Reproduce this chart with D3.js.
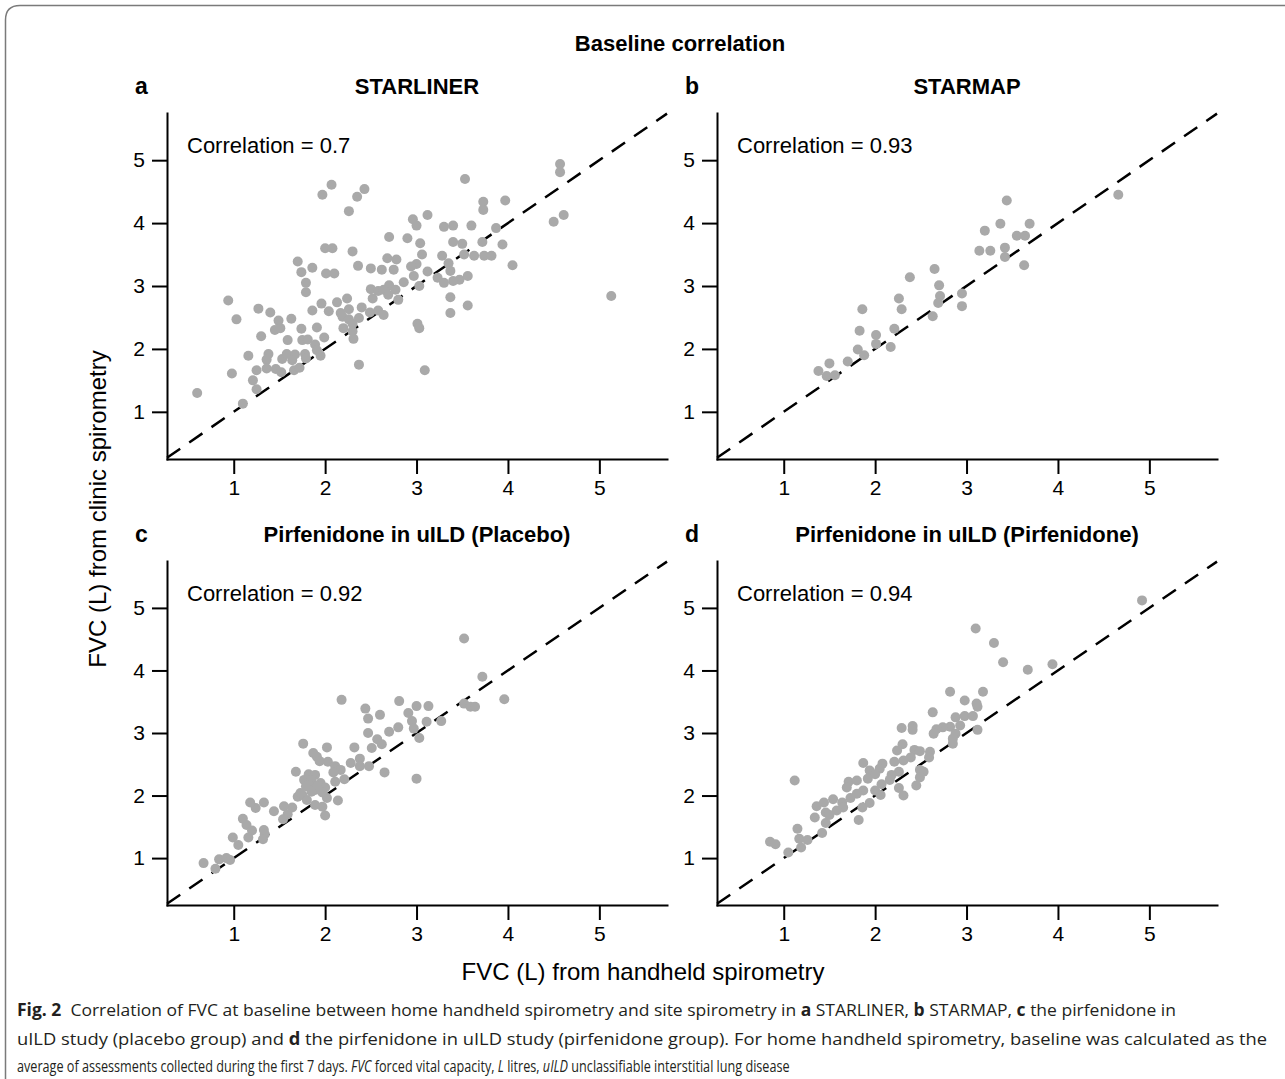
<!DOCTYPE html>
<html>
<head>
<meta charset="utf-8">
<script src="https://cdn.jsdelivr.net/npm/d3@7"></script>
<style>
  body { margin: 0; background: #fff; }
  svg text { font-family: "Liberation Sans", Arial, Helvetica, sans-serif; }
</style>
</head>
<body>
<div id="main"></div>
<script>
// values: [handheld, clinic] in litres
var starlinerPoints = [[4.57,4.94],[4.57,4.81],[3.53,4.70],[2.07,4.61],[1.97,4.45],[2.43,4.54],[2.35,4.42],[2.26,4.19],[3.12,4.13],[2.96,4.06],[3.00,3.96],[4.61,4.13],[4.50,4.02],[3.73,4.34],[3.73,4.21],[3.97,4.36],[3.30,3.94],[3.40,3.96],[3.60,3.96],[3.87,3.92],[2.70,3.78],[2.90,3.76],[3.04,3.68],[3.40,3.70],[3.50,3.67],[3.72,3.70],[3.94,3.66],[2.00,3.60],[2.08,3.60],[2.30,3.55],[3.06,3.50],[3.28,3.48],[3.52,3.50],[3.63,3.48],[3.74,3.48],[3.82,3.48],[2.68,3.44],[2.78,3.42],[1.70,3.39],[1.86,3.29],[2.36,3.32],[2.50,3.28],[2.62,3.26],[2.75,3.26],[3.00,3.35],[2.94,3.31],[3.35,3.36],[4.05,3.33],[1.74,3.22],[2.01,3.20],[2.10,3.20],[3.12,3.23],[2.97,3.16],[3.23,3.13],[3.37,3.24],[3.47,3.10],[3.56,3.16],[3.40,3.08],[3.30,3.05],[1.79,3.05],[2.86,3.06],[3.03,3.00],[2.70,3.01],[2.50,2.95],[2.58,2.92],[2.64,2.94],[2.77,2.94],[2.69,2.86],[2.80,2.78],[1.79,2.90],[2.52,2.80],[3.37,2.82],[0.94,2.77],[2.24,2.80],[2.13,2.74],[1.96,2.72],[3.56,2.69],[3.37,2.57],[1.27,2.64],[1.40,2.58],[1.86,2.61],[2.04,2.60],[2.17,2.57],[2.26,2.63],[2.40,2.66],[2.49,2.58],[2.58,2.61],[2.64,2.54],[2.37,2.49],[1.03,2.47],[1.49,2.45],[1.63,2.48],[1.91,2.34],[2.19,2.51],[2.26,2.47],[2.20,2.33],[2.30,2.40],[2.30,2.28],[1.45,2.30],[1.51,2.33],[1.74,2.32],[1.30,2.20],[1.59,2.14],[1.75,2.14],[1.81,2.15],[1.99,2.18],[1.89,2.07],[1.91,1.98],[1.95,1.89],[2.31,2.16],[3.01,2.40],[3.03,2.33],[1.16,1.89],[1.38,1.92],[1.36,1.83],[1.53,1.84],[1.58,1.92],[1.67,1.91],[1.78,1.92],[1.79,1.85],[1.64,1.82],[1.25,1.66],[1.36,1.69],[1.46,1.68],[1.52,1.63],[1.66,1.66],[1.72,1.70],[0.98,1.61],[2.37,1.75],[3.09,1.66],[1.21,1.50],[1.25,1.36],[0.60,1.30],[1.10,1.13],[5.13,2.84]];

var starmapPoints = [[4.66,4.45],[3.44,4.36],[3.37,3.99],[3.20,3.88],[3.69,3.99],[3.55,3.80],[3.64,3.80],[3.42,3.61],[3.42,3.46],[3.14,3.56],[3.26,3.56],[3.63,3.33],[2.65,3.27],[2.38,3.14],[2.70,3.01],[2.71,2.84],[2.69,2.73],[2.95,2.88],[2.95,2.68],[2.63,2.52],[2.26,2.80],[2.29,2.63],[1.86,2.63],[1.83,2.29],[2.21,2.32],[2.01,2.22],[2.01,2.08],[2.17,2.03],[1.81,1.99],[1.88,1.90],[1.70,1.80],[1.50,1.77],[1.38,1.65],[1.47,1.57],[1.56,1.58]];

var placeboPoints = [[3.52,4.51],[3.72,3.90],[2.18,3.53],[3.96,3.54],[2.81,3.51],[3.00,3.43],[3.13,3.43],[3.52,3.47],[3.59,3.42],[3.64,3.42],[2.44,3.39],[2.60,3.29],[2.47,3.23],[2.91,3.32],[2.95,3.19],[3.11,3.18],[3.27,3.19],[2.80,3.09],[2.70,3.02],[2.97,3.07],[2.47,3.00],[3.03,2.92],[2.57,2.90],[2.62,2.82],[2.51,2.76],[2.32,2.77],[1.76,2.83],[2.02,2.77],[1.87,2.68],[1.91,2.62],[1.94,2.55],[2.03,2.54],[2.11,2.47],[2.28,2.52],[2.38,2.59],[2.48,2.47],[2.38,2.47],[2.17,2.41],[2.09,2.37],[2.21,2.26],[2.11,2.22],[2.65,2.37],[3.00,2.27],[1.68,2.38],[1.82,2.34],[1.89,2.33],[1.77,2.25],[1.85,2.25],[1.95,2.20],[2.00,2.13],[1.82,2.17],[1.89,2.09],[1.70,1.98],[1.75,2.01],[1.80,1.93],[1.89,1.85],[1.97,1.82],[2.02,1.96],[2.14,1.92],[2.00,1.68],[1.64,1.81],[1.55,1.83],[1.59,1.70],[1.54,1.62],[1.44,1.75],[1.33,1.89],[1.24,1.80],[1.18,1.89],[1.10,1.63],[1.14,1.53],[1.20,1.44],[1.16,1.33],[1.33,1.45],[1.34,1.38],[1.32,1.30],[0.99,1.33],[1.05,1.21],[0.84,0.98],[0.92,1.00],[0.96,0.97],[0.67,0.92],[0.80,0.83],[1.79,2.15],[1.91,2.15],[1.85,2.06],[1.97,2.05],[1.73,2.04]];

var pirfenidonePoints = [[4.92,5.12],[3.10,4.67],[3.30,4.44],[3.40,4.13],[3.67,4.01],[3.94,4.10],[2.82,3.66],[3.18,3.66],[2.98,3.52],[3.11,3.47],[3.12,3.42],[2.63,3.33],[2.88,3.25],[2.98,3.27],[3.07,3.27],[3.12,3.05],[2.93,3.12],[2.82,3.10],[2.74,3.09],[2.67,3.06],[2.64,2.99],[2.88,2.99],[2.85,2.91],[2.85,2.83],[2.29,3.08],[2.41,3.11],[2.41,3.05],[2.30,2.82],[2.24,2.72],[2.43,2.73],[2.49,2.71],[2.60,2.70],[2.59,2.61],[2.39,2.61],[2.31,2.56],[2.21,2.54],[2.08,2.51],[1.87,2.52],[2.05,2.43],[1.94,2.40],[2.00,2.34],[1.92,2.27],[2.26,2.38],[2.18,2.33],[2.16,2.25],[2.49,2.41],[2.53,2.38],[2.49,2.29],[2.45,2.16],[2.26,2.12],[2.31,2.00],[2.07,2.18],[2.00,2.08],[2.06,2.01],[1.94,1.88],[1.86,1.81],[1.82,1.61],[1.87,2.08],[1.80,2.03],[1.71,2.22],[1.80,2.24],[1.69,2.13],[1.73,1.96],[1.64,1.89],[1.65,1.81],[1.58,1.76],[1.54,1.94],[1.44,1.89],[1.36,1.83],[1.46,1.73],[1.50,1.69],[1.34,1.65],[1.46,1.56],[1.42,1.40],[1.15,1.47],[1.12,2.24],[1.17,1.31],[1.26,1.29],[1.19,1.17],[1.05,1.09],[0.85,1.26],[0.91,1.22]];

var panelLetters = ["a", "b", "c", "d"];
var panelTitles = ["STARLINER", "STARMAP", "Pirfenidone in uILD (Placebo)", "Pirfenidone in uILD (Pirfenidone)"];
var correlations = ["0.7", "0.93", "0.92", "0.94"];
var tickValues = [1, 2, 3, 4, 5];

var figureTitle = "Baseline correlation";
var xAxisLabelText = "FVC (L) from handheld spirometry";
var yAxisLabelText = "FVC (L) from clinic spirometry";

var outerWidth = 1285, outerHeight = 1079;
var colLeft = [167, 717];
var rowTop = [113, 561];
var rowBottom = [459, 905];
var innerWidth = 500;
var xDomain = [0.27, 5.74];
var yDomain = [0.25, 5.75];
var pointColor = "#a9a9a9";

var svg = d3.select("#main")
    .append("svg")
    .attr("width", outerWidth)
    .attr("height", outerHeight);

// rounded frame round the figure
svg.append("path")
    .attr("d", "M5.5," + outerHeight + " L5.5,20 Q5.5,5.5 20,5.5 L" + outerWidth + ",5.5")
    .attr("fill", "none")
    .attr("stroke", "#7a7a7a")
    .attr("stroke-width", 1.5);

svg.append("text")
    .attr("x", 680)
    .attr("y", 51)
    .attr("text-anchor", "middle")
    .attr("font-size", 22)
    .attr("font-weight", "bold")
    .text(figureTitle);

function drawPanel(idx, points) {
    var col = idx % 2, row = Math.floor(idx / 2);
    var left = colLeft[col], top = rowTop[row];
    var innerHeight = rowBottom[row] - rowTop[row];

    var xScale = d3.scaleLinear().domain(xDomain).range([0, innerWidth]);
    var yScale = d3.scaleLinear().domain(yDomain).range([innerHeight, 0]);

    var g = svg.append("g")
        .attr("transform", "translate(" + left + "," + top + ")");

    // panel letter and title
    svg.append("text")
        .attr("x", left - 32)
        .attr("y", top - 19)
        .attr("font-size", 23)
        .attr("font-weight", "bold")
        .text(panelLetters[idx]);

    svg.append("text")
        .attr("x", left + innerWidth / 2)
        .attr("y", top - 19)
        .attr("text-anchor", "middle")
        .attr("font-size", 22)
        .attr("font-weight", "bold")
        .text(panelTitles[idx]);

    var xAxis = d3.axisBottom(xScale).tickValues(tickValues).tickFormat(d3.format("d"))
        .tickSize(15).tickSizeOuter(0).tickPadding(6);
    var yAxis = d3.axisLeft(yScale).tickValues(tickValues).tickFormat(d3.format("d"))
        .tickSize(15).tickSizeOuter(0).tickPadding(7);

    var xAxisG = g.append("g")
        .attr("transform", "translate(0," + innerHeight + ")")
        .call(xAxis);
    var yAxisG = g.append("g").call(yAxis);

    [xAxisG, yAxisG].forEach(function (a) {
        a.attr("font-family", null).attr("font-size", 21);
        a.selectAll(".domain, .tick line").attr("stroke", "#000").attr("stroke-width", 2);
        a.selectAll(".domain").attr("stroke-linecap", "square");
        a.selectAll("text").attr("fill", "#000");
    });

    // identity line
    var lo = Math.max(xDomain[0], yDomain[0]);
    var hi = Math.min(xDomain[1], yDomain[1]);
    g.append("line")
        .attr("x1", xScale(lo))
        .attr("y1", yScale(lo))
        .attr("x2", xScale(hi))
        .attr("y2", yScale(hi))
        .attr("stroke", "#000")
        .attr("stroke-width", 2.5)
        .attr("stroke-dasharray", "16,11");

    g.selectAll("circle")
        .data(points)
        .enter()
        .append("circle")
        .attr("cx", d => xScale(d[0]))
        .attr("cy", d => yScale(d[1]))
        .attr("r", 5)
        .attr("fill", pointColor);

    g.append("text")
        .attr("x", 20)
        .attr("y", 40)
        .attr("font-size", 22)
        .text("Correlation = " + correlations[idx]);
}

[starlinerPoints, starmapPoints, placeboPoints, pirfenidonePoints].forEach(function (pts, i) {
    drawPanel(i, pts);
});

svg.append("text")
    .attr("transform", "translate(106,509) rotate(-90)")
    .attr("text-anchor", "middle")
    .attr("font-size", 24)
    .text(yAxisLabelText);

svg.append("text")
    .attr("x", 643)
    .attr("y", 980)
    .attr("text-anchor", "middle")
    .attr("font-size", 24)
    .text(xAxisLabelText);

// caption, each line squeezed horizontally to its measured width
var captionLines = [
    {y: 1016, len: 1160, parts: [["Fig. 2", "bold"], ["  Correlation of FVC at baseline between home handheld spirometry and site spirometry in ", ""], ["a", "bold"], [" STARLINER, ", ""], ["b", "bold"], [" STARMAP, ", ""], ["c", "bold"], [" the pirfenidone in", ""]]},
    {y: 1045, len: 1251, parts: [["uILD study (placebo group) and ", ""], ["d", "bold"], [" the pirfenidone in uILD study (pirfenidone group). For home handheld spirometry, baseline was calculated as the", ""]]},
    {y: 1072, len: 773, parts: [["average of assessments collected during the first 7 days. ", ""], ["FVC", "italic"], [" forced vital capacity, ", ""], ["L", "italic"], [" litres, ", ""], ["uILD", "italic"], [" unclassifiable interstitial lung disease", ""]]}
];

captionLines.forEach(function (line) {
    var t = svg.append("text")
        .attr("font-size", 17)
        .attr("fill", "#231f20")
        .style("font-family", "'Open Sans', sans-serif")
        .attr("xml:space", "preserve");
    line.parts.forEach(function (p) {
        t.append("tspan")
            .attr("font-weight", p[1] == "bold" ? "bold" : null)
            .attr("font-style", p[1] == "italic" ? "italic" : null)
            .text(p[0]);
    });
    var k = line.len / t.node().getComputedTextLength();
    t.attr("transform", "translate(17," + line.y + ") scale(" + k + ",1)");
});
</script>
</body>
</html>
